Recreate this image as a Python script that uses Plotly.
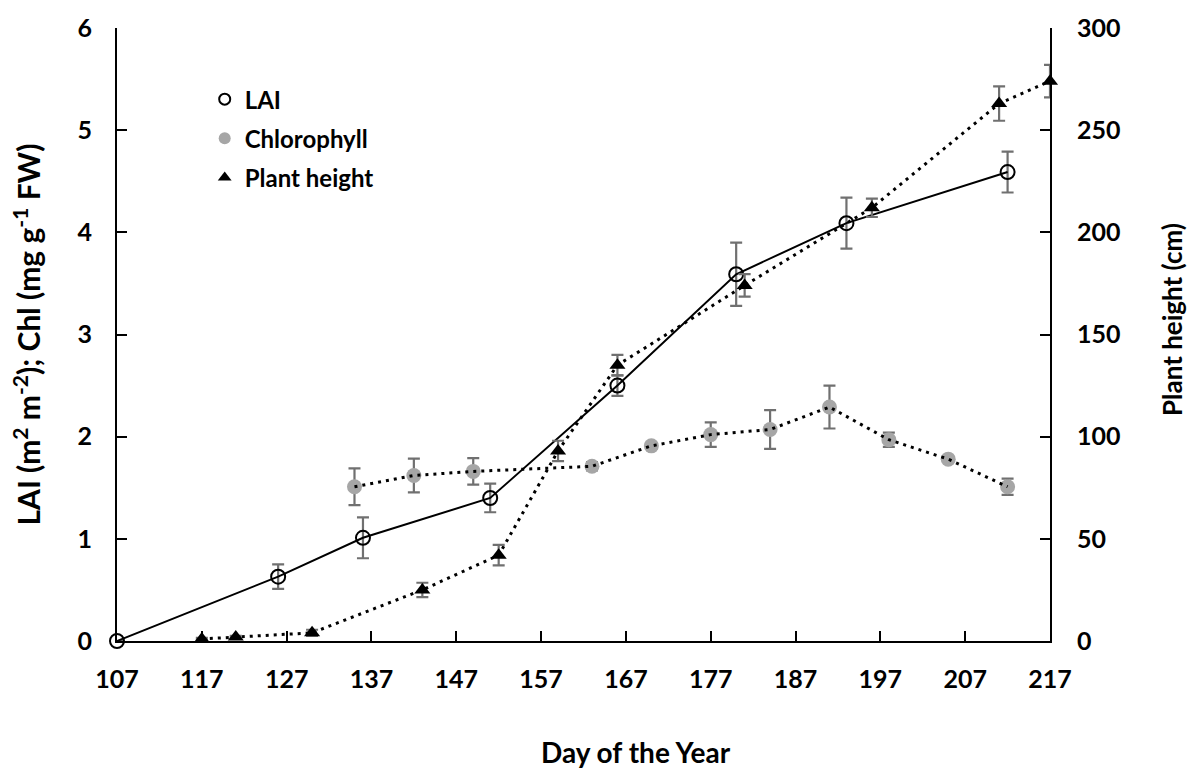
import plotly.graph_objects as go

# ---- data ----
lai_day = [107, 126, 136, 151, 166, 180, 193, 212]
lai_val = [0.0, 0.63, 1.01, 1.40, 2.50, 3.59, 4.09, 4.59]
lai_err = [0.0, 0.12, 0.20, 0.14, 0.10, 0.31, 0.25, 0.20]

chl_day = [135, 142, 149, 163, 170, 177, 184, 191, 198, 205, 212]
chl_val = [1.51, 1.62, 1.66, 1.71, 1.91, 2.02, 2.07, 2.29, 1.97, 1.78, 1.51]
chl_err = [0.18, 0.165, 0.13, 0.04, 0.03, 0.12, 0.19, 0.21, 0.07, 0.02, 0.08]

ht_day = [117, 121, 130, 143, 152, 159, 166, 181, 196, 211, 217]
ht_val = [1, 2, 4, 25, 42, 93, 135, 174, 212, 263, 274]
ht_err = [0.5, 0.5, 1.5, 3.5, 5, 5, 5, 5.5, 4.5, 8.4, 8]

x_ticks = [107, 117, 127, 137, 147, 157, 167, 177, 187, 197, 207, 217]

FONT = "Lato"
ERR = "#707070"
DOT = "3px,5px"

fig = go.Figure()

# LAI
fig.add_trace(go.Scatter(
    x=lai_day, y=lai_val, mode="lines+markers", showlegend=False,
    line=dict(color="black", width=2),
    marker=dict(symbol="circle-open", size=14, color="black", line=dict(width=2)),
    error_y=dict(type="data", array=lai_err, color=ERR, thickness=2.2, width=6),
    cliponaxis=False,
))

# Chlorophyll markers then dotted line on top
fig.add_trace(go.Scatter(
    x=chl_day, y=chl_val, mode="markers", showlegend=False,
    marker=dict(symbol="circle", size=15, color="#a6a6a6"),
    error_y=dict(type="data", array=chl_err, color=ERR, thickness=2.2, width=6),
    cliponaxis=False,
))
fig.add_trace(go.Scatter(
    x=chl_day, y=chl_val, mode="lines", showlegend=False,
    line=dict(color="black", width=3, dash=DOT),
))

# Plant height (right axis)
fig.add_trace(go.Scatter(
    x=ht_day, y=ht_val, mode="lines", showlegend=False, yaxis="y2",
    line=dict(color="black", width=3, dash=DOT), cliponaxis=False,
))
fig.add_trace(go.Scatter(
    x=ht_day, y=ht_val, mode="markers", showlegend=False, yaxis="y2",
    marker=dict(symbol="triangle-up", size=14, color="black"),
    error_y=dict(type="data", array=ht_err, color=ERR, thickness=2.2, width=6),
    cliponaxis=False,
))

# legend entries (markers only)
fig.add_trace(go.Scatter(x=[None], y=[None], mode="markers", name="LAI", legendgroup="a",
                         marker=dict(symbol="circle-open", size=11, color="black", line=dict(width=2))))
fig.add_trace(go.Scatter(x=[None], y=[None], mode="markers", name="Chlorophyll", legendgroup="b",
                         marker=dict(symbol="circle", size=12, color="#a6a6a6")))
fig.add_trace(go.Scatter(x=[None], y=[None], mode="markers", name="Plant height", legendgroup="c",
                         marker=dict(symbol="triangle-up", size=12, color="black")))

tickfont = dict(family=FONT, size=25, color="black", weight="bold")

fig.update_layout(
    width=1200, height=773,
    margin=dict(l=117, r=150, t=21, b=132),
    paper_bgcolor="white", plot_bgcolor="white",
    font=dict(family=FONT, color="black"),
    xaxis=dict(range=[107, 217], tickvals=x_ticks, ticks="inside", ticklen=10, tickwidth=1.5,
               tickcolor="black", showline=True, linecolor="black", linewidth=2,
               showgrid=False, zeroline=False, tickfont=tickfont, ticklabelstandoff=15),
    yaxis=dict(range=[0, 6], dtick=1, ticks="inside", ticklen=10, tickwidth=1.5,
               tickcolor="black", showline=True, linecolor="black", linewidth=2,
               showgrid=False, zeroline=False, tickfont=tickfont, ticklabelstandoff=18),
    yaxis2=dict(range=[0, 300], dtick=50, overlaying="y", side="right", ticks="inside",
                ticklen=10, tickwidth=1.5, tickcolor="black", showline=True, linecolor="black",
                linewidth=2, showgrid=False, zeroline=False, tickfont=tickfont,
                ticklabelstandoff=20),
    legend=dict(x=0.094, y=0.92, xanchor="left", yanchor="top", bgcolor="rgba(0,0,0,0)",
                font=dict(family=FONT, size=24, color="black", weight="bold"),
                tracegroupgap=5, itemwidth=30),
    annotations=[
        dict(text="Day of the Year", xref="paper", yref="paper", x=0.556, y=-0.181,
             xanchor="center", yanchor="middle", showarrow=False,
             font=dict(family=FONT, size=28, color="black", weight="bold")),
        dict(text="LAI (m<sup>2</sup> m<sup>-2</sup>); Chl (mg g<sup>-1</sup> FW)",
             xref="paper", yref="paper", x=-0.0975, y=0.5, textangle=-90,
             xanchor="center", yanchor="middle", showarrow=False,
             font=dict(family=FONT, size=30, color="black", weight="bold")),
        dict(text="Plant height (cm)", xref="paper", yref="paper", x=1.131, y=0.524,
             textangle=-90, xanchor="center", yanchor="middle", showarrow=False,
             font=dict(family=FONT, size=26, color="black", weight="bold")),
    ],
)

fig.write_html("out.html")
